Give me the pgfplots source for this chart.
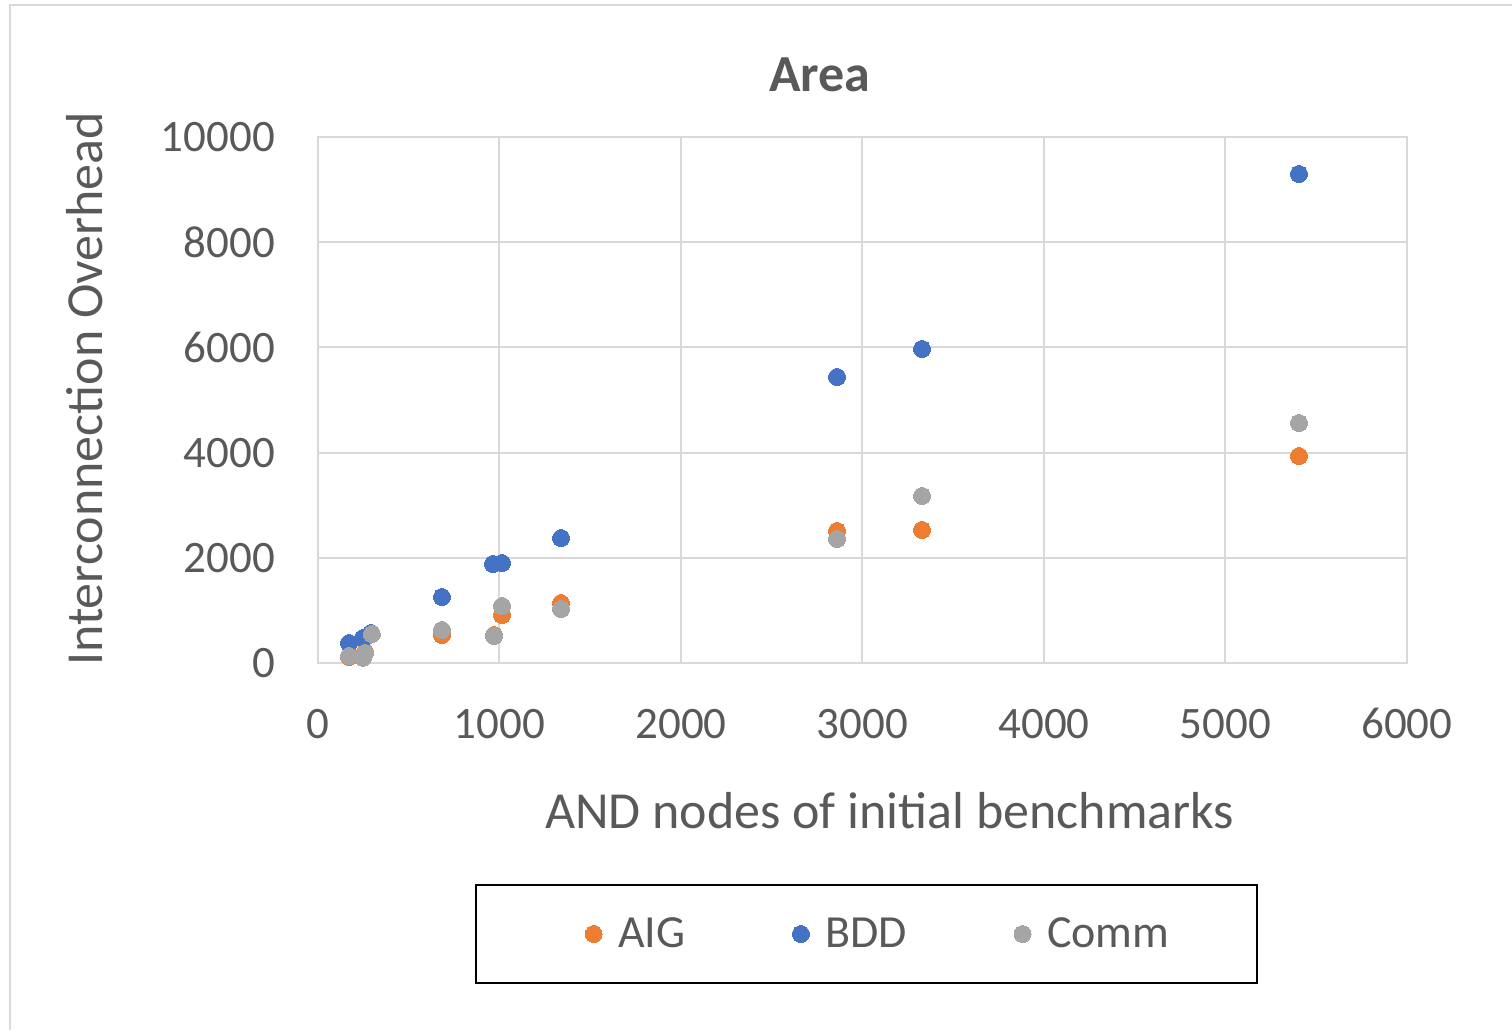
\documentclass[border=0pt]{standalone}
\usepackage{pgfplots}
\pgfplotsset{compat=1.18}
\usepackage{fontspec}
\setmainfont{Carlito}
\definecolor{txt}{HTML}{595959}
\definecolor{gridc}{HTML}{D9D9D9}
\definecolor{aig}{HTML}{ED7D31}
\definecolor{bdd}{HTML}{4472C4}
\definecolor{comm}{HTML}{A5A5A5}
\begin{document}
\begin{tikzpicture}
\useasboundingbox (-159pt,-183.5pt) rectangle (597pt,331.5pt);
\draw[gridc, line width=1pt] (-154pt,-183.5pt) -- (-154pt,329pt) -- (597pt,329pt);
\begin{axis}[
  at={(0pt,0pt)}, anchor=south west,
  scale only axis, width=544.5pt, height=263pt,
  xmin=0, xmax=6000, ymin=0, ymax=10000,
  xtick={0,1000,...,6000}, ytick={0,2000,...,10000},
  scaled ticks=false,
  /pgf/number format/assume math mode=true,
  /pgf/number format/1000 sep={},
  major tick length=0pt,
  grid=major,
  grid style={gridc, line width=1pt},
  axis line style={gridc, line width=1pt},
  tick label style={font=\fontsize{22.5}{26}\selectfont, text=txt},
  yticklabel style={anchor=east, xshift=-18pt},
  xticklabel style={anchor=base, yshift=-37.5pt},
  xlabel={AND nodes of initial benchmarks},
  ylabel={Interconnection Overhead},
  label style={font=\fontsize{26}{30}\selectfont, text=txt},
  xlabel style={at={(axis description cs:0.525,-0.3137)}, anchor=base},
  ylabel style={at={(axis description cs:-0.214,0.521)}, anchor=center},
  title={\textbf{Area}},
  title style={font=\fontsize{26}{30}\selectfont, text=txt, at={(axis description cs:0.461,1.063)}, anchor=base},
  legend columns=3,
  legend image code/.code={\draw[#1] plot coordinates {(0pt,0pt)};},
  legend style={at={(axis description cs:0.5037,-0.5152)}, anchor=center,
    draw=black, line width=1pt, inner xsep=42pt, inner ysep=14.5pt,
    font=\fontsize{23}{27}\selectfont, text=txt,
    /tikz/every odd column/.append style={column sep=6pt},
    /tikz/every even column/.append style={column sep=51.5pt}},
  legend cell align=left,
]
\addplot[only marks, mark=*, mark size=4.25pt, aig, mark options={draw=aig, fill=aig, line width=0pt},
  legend image code/.code={\path (-16.5pt,0pt); \draw[##1] plot coordinates {(0pt,0pt)};}] coordinates {
(171,114) (259,209) (292,540) (683,532) (970,532) (1014,912) (1339,1140)
(2860,2510) (3328,2529) (5405,3935)};
\addlegendentry{AIG}
\addplot[only marks, mark=*, mark size=4.25pt, bdd, mark options={draw=bdd, fill=bdd, line width=0pt}] coordinates {
(171,380) (248,475) (292,570) (683,1255) (964,1882) (1014,1900) (1339,2376)
(2860,5437) (3328,5970) (5405,9297)};
\addlegendentry{BDD}
\addplot[only marks, mark=*, mark size=4.25pt, comm, mark options={draw=comm, fill=comm, line width=0pt}] coordinates {
(171,133) (259,190) (248,100) (297,551) (683,627) (970,513) (1014,1083) (1339,1027)
(2860,2357) (3328,3175) (5405,4563)};
\addlegendentry{Comm}
\end{axis}
\end{tikzpicture}
\end{document}
